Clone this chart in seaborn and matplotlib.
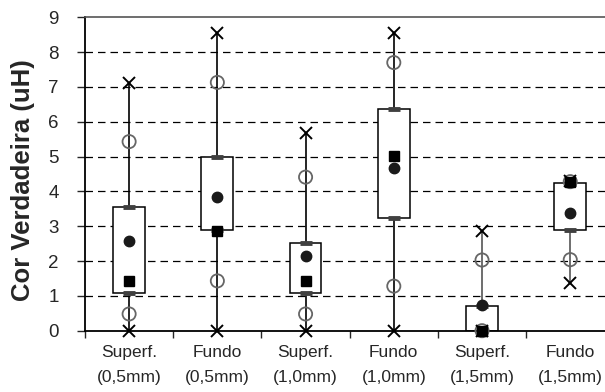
import matplotlib
matplotlib.use("Agg")
import matplotlib.pyplot as plt
import seaborn as sns
import pandas as pd
import numpy as np

# values
categories = ["Superf.\n(0,5mm)", "Fundo\n(0,5mm)", "Superf.\n(1,0mm)",
              "Fundo\n(1,0mm)", "Superf.\n(1,5mm)", "Fundo\n(1,5mm)"]
minimum = [0.0, 0.0, 0.0, 0.0, 0.0, 1.37]
perc10 = [0.48, 1.43, 0.48, 1.28, 0.0, 2.04]
quart1 = [1.09, 2.89, 1.09, 3.23, 0.0, 2.89]
median = [1.43, 2.87, 1.43, 5.02, 0.0, 4.26]
mean = [2.59, 3.83, 2.15, 4.67, 0.74, 3.37]
quart3 = [3.56, 4.98, 2.51, 6.37, 0.70, 4.24]
perc90 = [5.43, 7.13, 4.41, 7.70, 2.03, 4.28]
maximum = [7.11, 8.55, 5.69, 8.55, 2.85, 4.30]

df = pd.DataFrame({"cat": categories, "min": minimum, "p10": perc10,
                   "q1": quart1, "med": median, "mean": mean,
                   "q3": quart3, "p90": perc90, "max": maximum})
df["x"] = np.arange(len(df))

sns.set_style("white")
plt.rcParams['font.family'] = ['Liberation Sans', 'DejaVu Sans']
plt.rcParams['ytick.left'] = True
plt.rcParams['xtick.bottom'] = True
plt.rcParams['ytick.major.size'] = 6
plt.rcParams['ytick.major.pad'] = 13
plt.rcParams['ytick.direction'] = 'out'
plt.rcParams['xtick.direction'] = 'out'

fig = plt.figure(figsize=(6.05, 3.92), dpi=100)
ax = fig.add_axes([0.1405, 0.1564, 0.875, 0.7995])

# gridlines
for yv in range(1, 9):
    ax.axhline(yv, color="black", lw=0.9, ls=(0, (6, 4)), zorder=0)

half = 0.18
wcol = ["black", "black", "black", "black", "#555555", "#555555"]
for i, r in df.iterrows():
    ax.plot([r.x, r.x], [r["min"], r["max"]], color=wcol[i], lw=1.2, zorder=1)
    ax.add_patch(plt.Rectangle((r.x - half, r.q1), 2 * half, r.q3 - r.q1,
                               facecolor="white", edgecolor="black", lw=1.1, zorder=2))

# quartile dashes
for col in ["q1", "q3"]:
    ax.plot(df.x, df[col], ls="none", marker="_", ms=9, mew=3.5,
            color="#404040", zorder=3, clip_on=False)

for col in ["p10", "p90"]:
    sns.scatterplot(data=df, x="x", y=col, ax=ax, marker="o", s=90,
                    facecolor="none", edgecolor="#666666", linewidth=1.3,
                    zorder=4, clip_on=False)
for col in ["min", "max"]:
    ax.plot(df.x, df[col], ls="none", marker="x", ms=8, mew=1.4,
            color="black", zorder=5, clip_on=False)
ax.plot(df.x, df["mean"], ls="none", marker="o", ms=7.5, color="#1a1a1a",
        zorder=6, clip_on=False)
ax.plot(df.x, df["med"], ls="none", marker="s", ms=7, color="black",
        zorder=6, clip_on=False)

ax.set_xlim(-0.5, 5.5)
ax.set_ylim(0, 9)
ax.set_yticks(range(0, 10))
ax.set_xticks(np.arange(-0.5, 5.6, 1.0), minor=False)
ax.set_xticklabels([])
ax.set_xticks(df.x, minor=True)
ax.set_xticklabels(categories, minor=True, fontsize=12.5, linespacing=1.85)
ax.tick_params(axis="x", which="minor", length=0, pad=10)
ax.tick_params(axis="x", which="major", length=5, width=1)
ax.tick_params(axis="y", width=1, labelsize=13.5)
ax.set_xlabel("")
ax.set_ylabel("Cor Verdadeira (uH)", fontsize=18.5, fontweight="bold")
ax.yaxis.set_label_coords(-0.095, 0.48)

for s in ["left", "bottom"]:
    ax.spines[s].set_color("black")
    ax.spines[s].set_linewidth(1.3)
ax.spines["top"].set_color("#555555")
ax.spines["top"].set_linewidth(1.2)
ax.spines["right"].set_visible(False)

fig.savefig("out.png", dpi=100)
